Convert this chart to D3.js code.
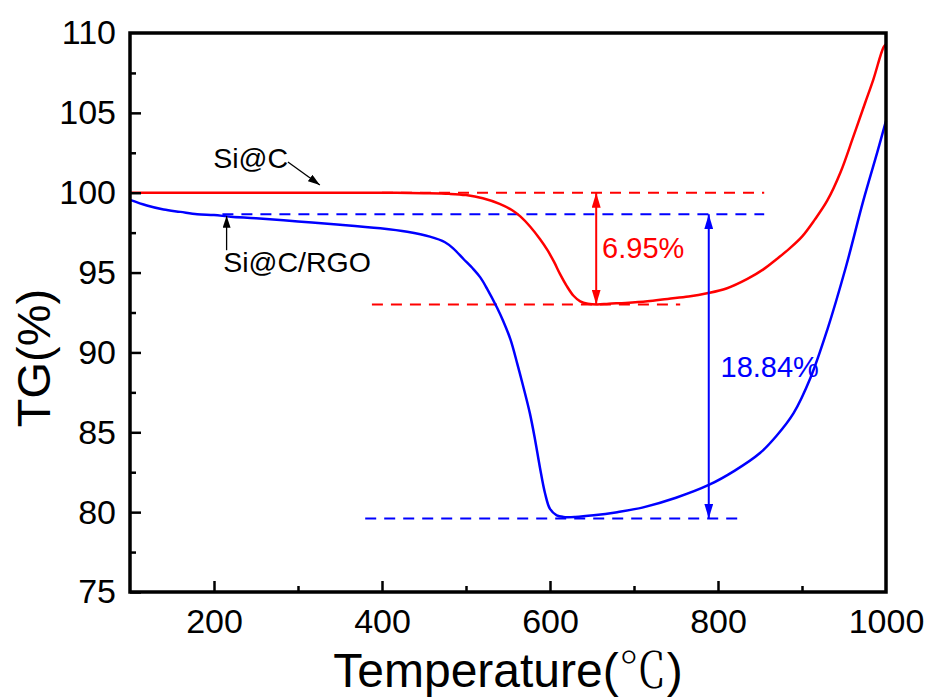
<!DOCTYPE html>
<html lang="en">
<head>
<meta charset="utf-8">
<title>TG - Si@C vs Si@C/RGO</title>
<script src="https://cdn.jsdelivr.net/npm/d3@7"></script>
<style>
  body { margin: 0; background: #fff; }
  svg text { font-family: "Liberation Sans", Arial, sans-serif; }
</style>
</head>
<body>
<div id="chart"></div>
<script>
// Si@C curve (temperature in C, TG in %)
var tempSiC = [100, 150, 200, 250, 300, 350, 400, 450, 480, 500, 520, 540, 555, 565, 576, 588, 597, 605, 612, 620, 628, 636, 645, 656, 670, 690, 716, 740, 765, 787, 810, 835, 854, 870, 885, 900, 915, 930, 946, 961, 975, 985, 997, 1000];
var tgSiC   = [100.0, 100.0, 100.0, 100.0, 100.0, 100.0, 100.0, 99.97, 99.93, 99.85, 99.65, 99.3, 98.9, 98.5, 97.9, 97.1, 96.4, 95.65, 94.9, 94.15, 93.55, 93.2, 93.05, 93.0, 93.05, 93.1, 93.2, 93.35, 93.5, 93.7, 94.0, 94.6, 95.2, 95.85, 96.5, 97.25, 98.3, 99.5, 101.3, 103.5, 105.6, 107.1, 109.1, 109.3];

// Si@C/RGO curve
var tempSiCRGO = [100, 120, 140, 160, 180, 200, 220, 250, 300, 350, 398, 430, 457, 475, 485, 497, 509, 517, 525, 537, 544, 553, 561, 568, 576, 582, 588, 594, 600, 608, 616, 630, 652, 680, 711, 750, 789, 820, 850, 870, 890, 910, 930, 952, 973, 990, 1000];
var tgSiCRGO   = [99.55, 99.2, 98.95, 98.8, 98.65, 98.6, 98.5, 98.4, 98.2, 98.0, 97.77, 97.55, 97.25, 96.9, 96.5, 95.85, 95.2, 94.7, 94.0, 92.8, 92.0, 90.8, 89.3, 87.9, 86.2, 84.6, 82.8, 81.2, 80.2, 79.8, 79.7, 79.7, 79.8, 80.0, 80.3, 80.9, 81.7, 82.6, 83.7, 84.8, 86.2, 88.4, 91.4, 95.3, 99.5, 102.6, 104.5];

// axes
var xTicks = [200, 400, 600, 800, 1000];
var xMinor = [300, 500, 700, 900];
var yTicks = [75, 80, 85, 90, 95, 100, 105, 110];
var yMinor = [77.5, 82.5, 87.5, 92.5, 97.5, 102.5, 107.5];

// weight loss annotations
var lossLabels = ["6.95%", "18.84%"];
var lossStart  = [100.0, 98.65];
var lossEnd    = [93.0, 79.6];
var lossTemp   = [655, 789];

var seriesNames = ["Si@C", "Si@C/RGO"];

var width = 932, height = 700;
var margin = {top: 33, right: 46, bottom: 108, left: 130};

var x = d3.scaleLinear().domain([100, 1000]).range([margin.left, width - margin.right]);
var y = d3.scaleLinear().domain([75, 110]).range([height - margin.bottom, margin.top]);

var svg = d3.select("#chart").append("svg")
    .attr("width", width)
    .attr("height", height);

// arrow heads
var defs = svg.append("defs");
function addMarker(id, color, len, wid) {
  defs.append("marker")
      .attr("id", id)
      .attr("markerUnits", "userSpaceOnUse")
      .attr("markerWidth", len)
      .attr("markerHeight", wid)
      .attr("refX", len)
      .attr("refY", wid / 2)
      .attr("orient", "auto-start-reverse")
    .append("path")
      .attr("d", "M0,0L" + len + "," + (wid / 2) + "L0," + wid + "Z")
      .attr("fill", color);
}
addMarker("head-red", "#ff0000", 15, 9);
addMarker("head-blue", "#0000ff", 15, 9);
addMarker("head-black", "#000", 12, 8);

// dashed reference lines
function dashed(v, t0, t1, color) {
  svg.append("line")
      .attr("x1", x(t0)).attr("x2", x(t1))
      .attr("y1", y(v)).attr("y2", y(v))
      .attr("stroke", color)
      .attr("stroke-width", 2)
      .attr("stroke-dasharray", "11,8");
}
dashed(lossStart[0], 400, 855, "#ff0000");
dashed(lossEnd[0], 388, 755, "#ff0000");
dashed(lossStart[1], 210, 855, "#0000ff");
dashed(lossEnd[1], 380, 823, "#0000ff");

// curves
var line = d3.line()
    .x(function(d) { return x(d[0]); })
    .y(function(d) { return y(d[1]); })
    .curve(d3.curveCatmullRom.alpha(0.5));

svg.append("path")
    .datum(d3.zip(tempSiC, tgSiC))
    .attr("d", line)
    .attr("fill", "none")
    .attr("stroke", "#ff0000")
    .attr("stroke-width", 2.5);

svg.append("path")
    .datum(d3.zip(tempSiCRGO, tgSiCRGO))
    .attr("d", line)
    .attr("fill", "none")
    .attr("stroke", "#0000ff")
    .attr("stroke-width", 2.5);

// double arrows + labels
var lossColors = ["#ff0000", "#0000ff"];
var lossMarkers = ["url(#head-red)", "url(#head-blue)"];
lossLabels.forEach(function(lbl, i) {
  svg.append("line")
      .attr("x1", x(lossTemp[i])).attr("x2", x(lossTemp[i]))
      .attr("y1", y(lossStart[i])).attr("y2", y(lossEnd[i]))
      .attr("stroke", lossColors[i])
      .attr("stroke-width", 2)
      .attr("marker-start", lossMarkers[i])
      .attr("marker-end", lossMarkers[i]);
});
svg.append("text")
    .attr("x", x(662)).attr("y", y(95.9))
    .attr("fill", "#ff0000")
    .attr("font-size", 29)
    .text(lossLabels[0]);
svg.append("text")
    .attr("x", x(803)).attr("y", y(88.46))
    .attr("fill", "#0000ff")
    .attr("font-size", 29)
    .text(lossLabels[1]);

// series labels with small black arrows
svg.append("text")
    .attr("x", x(199)).attr("y", y(101.55))
    .attr("font-size", 28.5)
    .text(seriesNames[0]);
svg.append("line")
    .attr("x1", x(288)).attr("y1", y(101.92))
    .attr("x2", x(326)).attr("y2", y(100.48))
    .attr("stroke", "#000").attr("stroke-width", 1.3)
    .attr("marker-end", "url(#head-black)");

svg.append("text")
    .attr("x", x(211)).attr("y", y(95.03))
    .attr("font-size", 28.5)
    .text(seriesNames[1]);
svg.append("line")
    .attr("x1", x(215)).attr("y1", y(96.4))
    .attr("x2", x(215)).attr("y2", y(98.55))
    .attr("stroke", "#000").attr("stroke-width", 1.3)
    .attr("marker-end", "url(#head-black)");

// axes (ticks point inward)
var plotBottom = height - margin.bottom;

var xAxis = svg.append("g")
    .attr("transform", "translate(0," + plotBottom + ")")
    .call(d3.axisBottom(x).tickValues(xTicks).tickFormat(d3.format("d"))
      .tickSizeInner(-11).tickSizeOuter(0).tickPadding(17));
svg.append("g")
    .attr("transform", "translate(0," + plotBottom + ")")
    .call(d3.axisBottom(x).tickValues(xMinor).tickSizeInner(-6).tickSizeOuter(0).tickFormat(""));

var yAxis = svg.append("g")
    .attr("transform", "translate(" + margin.left + ",0)")
    .call(d3.axisLeft(y).tickValues(yTicks).tickFormat(d3.format("d"))
      .tickSizeInner(-11).tickSizeOuter(0).tickPadding(14));
svg.append("g")
    .attr("transform", "translate(" + margin.left + ",0)")
    .call(d3.axisLeft(y).tickValues(yMinor).tickSizeInner(-6).tickSizeOuter(0).tickFormat(""));

svg.selectAll(".domain").remove();
svg.selectAll(".tick line").attr("stroke", "#000").attr("stroke-width", 2.5);
svg.selectAll(".tick text")
    .attr("font-family", "Liberation Sans, Arial, sans-serif")
    .attr("font-size", 34)
    .attr("fill", "#000");
yAxis.selectAll(".tick").filter(function(d) { return d === 110; }).select("line").remove();
xAxis.selectAll(".tick").filter(function(d) { return d === 1000; }).select("line").remove();

// frame
svg.append("rect")
    .attr("x", margin.left)
    .attr("y", margin.top)
    .attr("width", width - margin.left - margin.right)
    .attr("height", plotBottom - margin.top)
    .attr("fill", "none")
    .attr("stroke", "#000")
    .attr("stroke-width", 3.5);

// axis titles
var xt = svg.append("text")
    .attr("x", (margin.left + width - margin.right) / 2)
    .attr("y", 687)
    .attr("text-anchor", "middle")
    .attr("font-size", 48);
xt.append("tspan").text("Temperature(");
xt.append("tspan")
    .attr("font-family", "Noto Serif CJK SC, Noto Sans CJK SC, serif")
    .attr("font-weight", 300)
    .text("℃");
xt.append("tspan").text(")");

svg.append("text")
    .attr("transform", "translate(50," + 358 + ") rotate(-90)")
    .attr("text-anchor", "middle")
    .attr("font-size", 47)
    .text("TG(%)");
</script>
</body>
</html>
